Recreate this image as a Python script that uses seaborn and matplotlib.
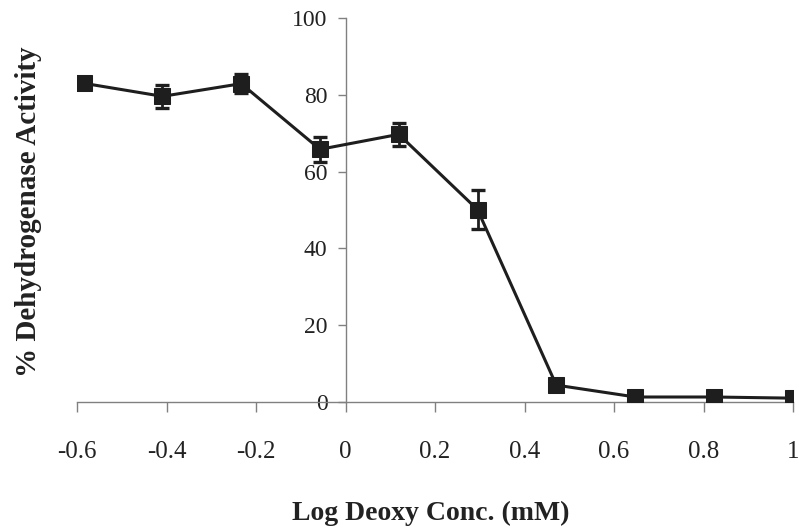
import numpy as np
import pandas as pd
import matplotlib
matplotlib.use("Agg")
import matplotlib.pyplot as plt
import seaborn as sns

# Log of deoxy concentration (mM) and % dehydrogenase activity with SE
log_conc = [-0.585, -0.409, -0.233, -0.057, 0.119, 0.295, 0.471, 0.648, 0.824, 1.0]
activity = [83.0, 79.6, 82.9, 65.8, 69.7, 50.1, 4.4, 1.3, 1.3, 1.0]
activity_err = [1.5, 3.0, 2.5, 3.3, 3.0, 5.0, 1.0, 0.8, 0.8, 0.8]

x_ticks = [-0.6, -0.4, -0.2, 0, 0.2, 0.4, 0.6, 0.8, 1.0]
x_tick_labels = ["-0.6", "-0.4", "-0.2", "0", "0.2", "0.4", "0.6", "0.8", "1"]
y_ticks = [0, 20, 40, 60, 80, 100]

df = pd.DataFrame({"log_conc": log_conc, "activity": activity, "err": activity_err})

sns.set_theme(style="white")
plt.rcParams["font.family"] = ["Liberation Serif", "DejaVu Serif"]

fig = plt.figure(figsize=(7.99, 5.29), dpi=100)
W, H = 799, 529
x0, x1 = 77, 793
y0, y1 = 402, 18
ax = fig.add_axes([x0 / W, (H - y0) / H, (x1 - x0) / W, (y0 - y1) / H])

line_color = "#1e1e1e"
ax.errorbar(df["log_conc"], df["activity"], yerr=df["err"], fmt="none",
            ecolor=line_color, elinewidth=2.0, capsize=5, capthick=2.4, zorder=3)
sns.lineplot(data=df, x="log_conc", y="activity", ax=ax, color=line_color,
             linewidth=2.2, marker="s", markersize=12, markeredgecolor=line_color,
             markerfacecolor=line_color, zorder=4)

ax.set_xlim(-0.6, 1.0)
ax.set_ylim(0, 100)
ax.set_xticks(x_ticks)
ax.set_xticklabels(x_tick_labels)
ax.set_yticks(y_ticks)

spine_color = "#808080"
ax.spines["left"].set_position(("data", 0))
ax.spines["top"].set_visible(False)
ax.spines["right"].set_visible(False)
for s in ("left", "bottom"):
    ax.spines[s].set_color(spine_color)
    ax.spines[s].set_linewidth(1.0)

ax.tick_params(axis="x", direction="out", length=7, width=1, color=spine_color,
               labelsize=18, pad=21, labelcolor="#222222", bottom=True)
ax.tick_params(axis="y", direction="out", length=6, width=1, color=spine_color,
               labelsize=17, pad=7, labelcolor="#222222", left=True)

ax.set_xlabel("Log Deoxy Conc. (mM)", fontsize=20, fontweight="bold", color="#222222")
ax.set_ylabel("% Dehydrogenase Activity", fontsize=21, fontweight="bold", color="#222222")
ax.xaxis.set_label_coords(0.494, -0.258)
ax.yaxis.set_label_coords(-0.049, 0.495)
ax.grid(False)

fig.savefig("out.png", dpi=100, facecolor="white")
